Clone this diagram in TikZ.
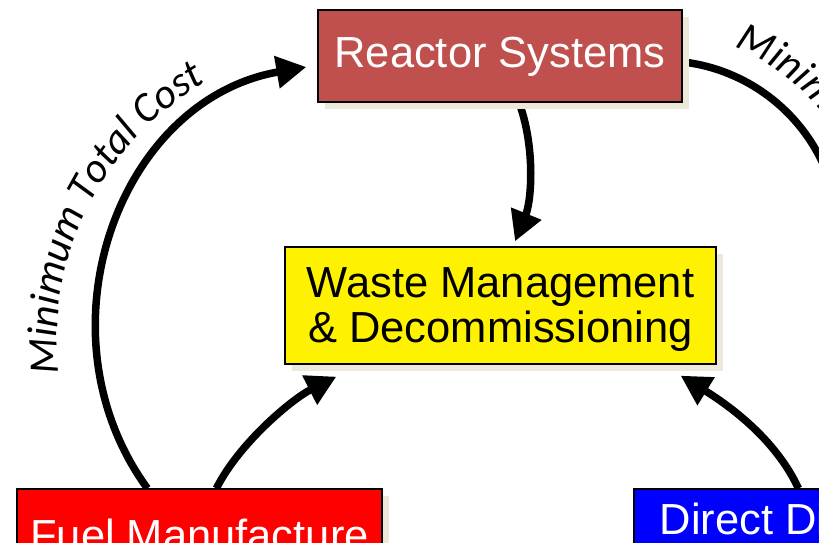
\documentclass[tikz,border=0pt]{standalone}
\usepackage{fontspec}
\setmainfont{Liberation Sans}
\newfontfamily\arcfont{Carlito}
\usetikzlibrary{arrows.meta,calc,shadows,decorations.text}

\definecolor{reactorred}{RGB}{192,80,77}
\definecolor{wasteyellow}{RGB}{255,242,0}
\definecolor{fuelred}{RGB}{255,0,0}
\definecolor{disposalblue}{RGB}{0,0,255}
\definecolor{shadowbeige}{RGB}{236,233,218}

\newcommand\boxfont{\fontsize{43.5}{45}\selectfont}
\newcommand\arclabelfont{\arcfont\itshape\fontsize{42}{48}\selectfont}

\pgfdeclarelayer{arrowlayer}
\pgfsetlayers{arrowlayer,main}

\tikzset{
  stage/.style={draw=black, line width=1.2pt, inner sep=0pt, font=\boxfont,
    text height=31pt, text depth=9pt,
    general shadow={fill=shadowbeige, shadow xshift=6.5pt, shadow yshift=-6.5pt}},
  flow/.style={line width=7.5pt, -{Triangle[length=30pt,width=31pt]}},
  curvedlabel/.style={decorate, decoration={text along path,
    text format delimiters={|}{|}, text={|\arclabelfont|#1}}},
}

\begin{document}
\begin{tikzpicture}[x=1pt,y=1pt]
  \path[use as bounding box] (0,0) rectangle (819,-542);
  \clip (0,0) rectangle (819,-542);

  % process stages
  \node[stage, fill=reactorred, text=white, minimum width=364pt, minimum height=92pt]
    (reactor) at (500,-56) {Reactor Systems};
  \node[stage, fill=wasteyellow, text=black, minimum width=431pt, minimum height=117pt,
    align=center, text height=, text depth=]
    (waste) at (500.5,-305.5) {Waste Management\rule{0pt}{38.8pt}\\\& Decommissioning};
  \node[stage, fill=fuelred, text=white, minimum width=365pt, minimum height=100pt]
    (fuel) at (199.5,-539) {Fuel Manufacture};
  \node[stage, fill=disposalblue, text=white, minimum width=344pt, minimum height=92pt,
    text height=31pt, text depth=33pt]
    (direct) at (806,-535) {Direct Disposal};

  % flows between stages, kept beneath the boxes
  \begin{pgfonlayer}{arrowlayer}
    \begin{scope}
      \clip (0,0) rectangle (819,-542);
      \draw[flow] ($(fuel.north west)+(131,0)$)
        .. controls +(-113,155) and +(-189,-33) .. ($(reactor.west)+(-11,-11)$);
      \draw[flow] ($(reactor.south)+(19,0)$)
        .. controls +(16,-43) and +(17,42) .. ($(waste.north)+(14.5,5)$);
      \draw[flow] ($(fuel.north west)+(200,0)$)
        .. controls +(22.5,45) and +(-44.5,-22.5) .. ($(waste.south west)+(52,-12)$);
      \draw[flow] ($(direct.north west)+(165,0)$)
        .. controls +(-23,50) and +(47,-29) .. ($(waste.south east)+(-36,-11)$);
      \draw[line width=7.5pt] ($(reactor.east)+(1,-6)$)
        arc[start angle=83, end angle=-20, radius=177.4];
    \end{scope}
  \end{pgfonlayer}

  % curved captions
  \path[curvedlabel={Minimum Total Cost}] (354,-340) ++(186.5:297)
    arc[start angle=186.5, end angle=112, radius=297];
  \path[curvedlabel={Minimum}] (661,-238) ++(69:204)
    arc[start angle=69, end angle=-30, radius=204];
\end{tikzpicture}
\end{document}
